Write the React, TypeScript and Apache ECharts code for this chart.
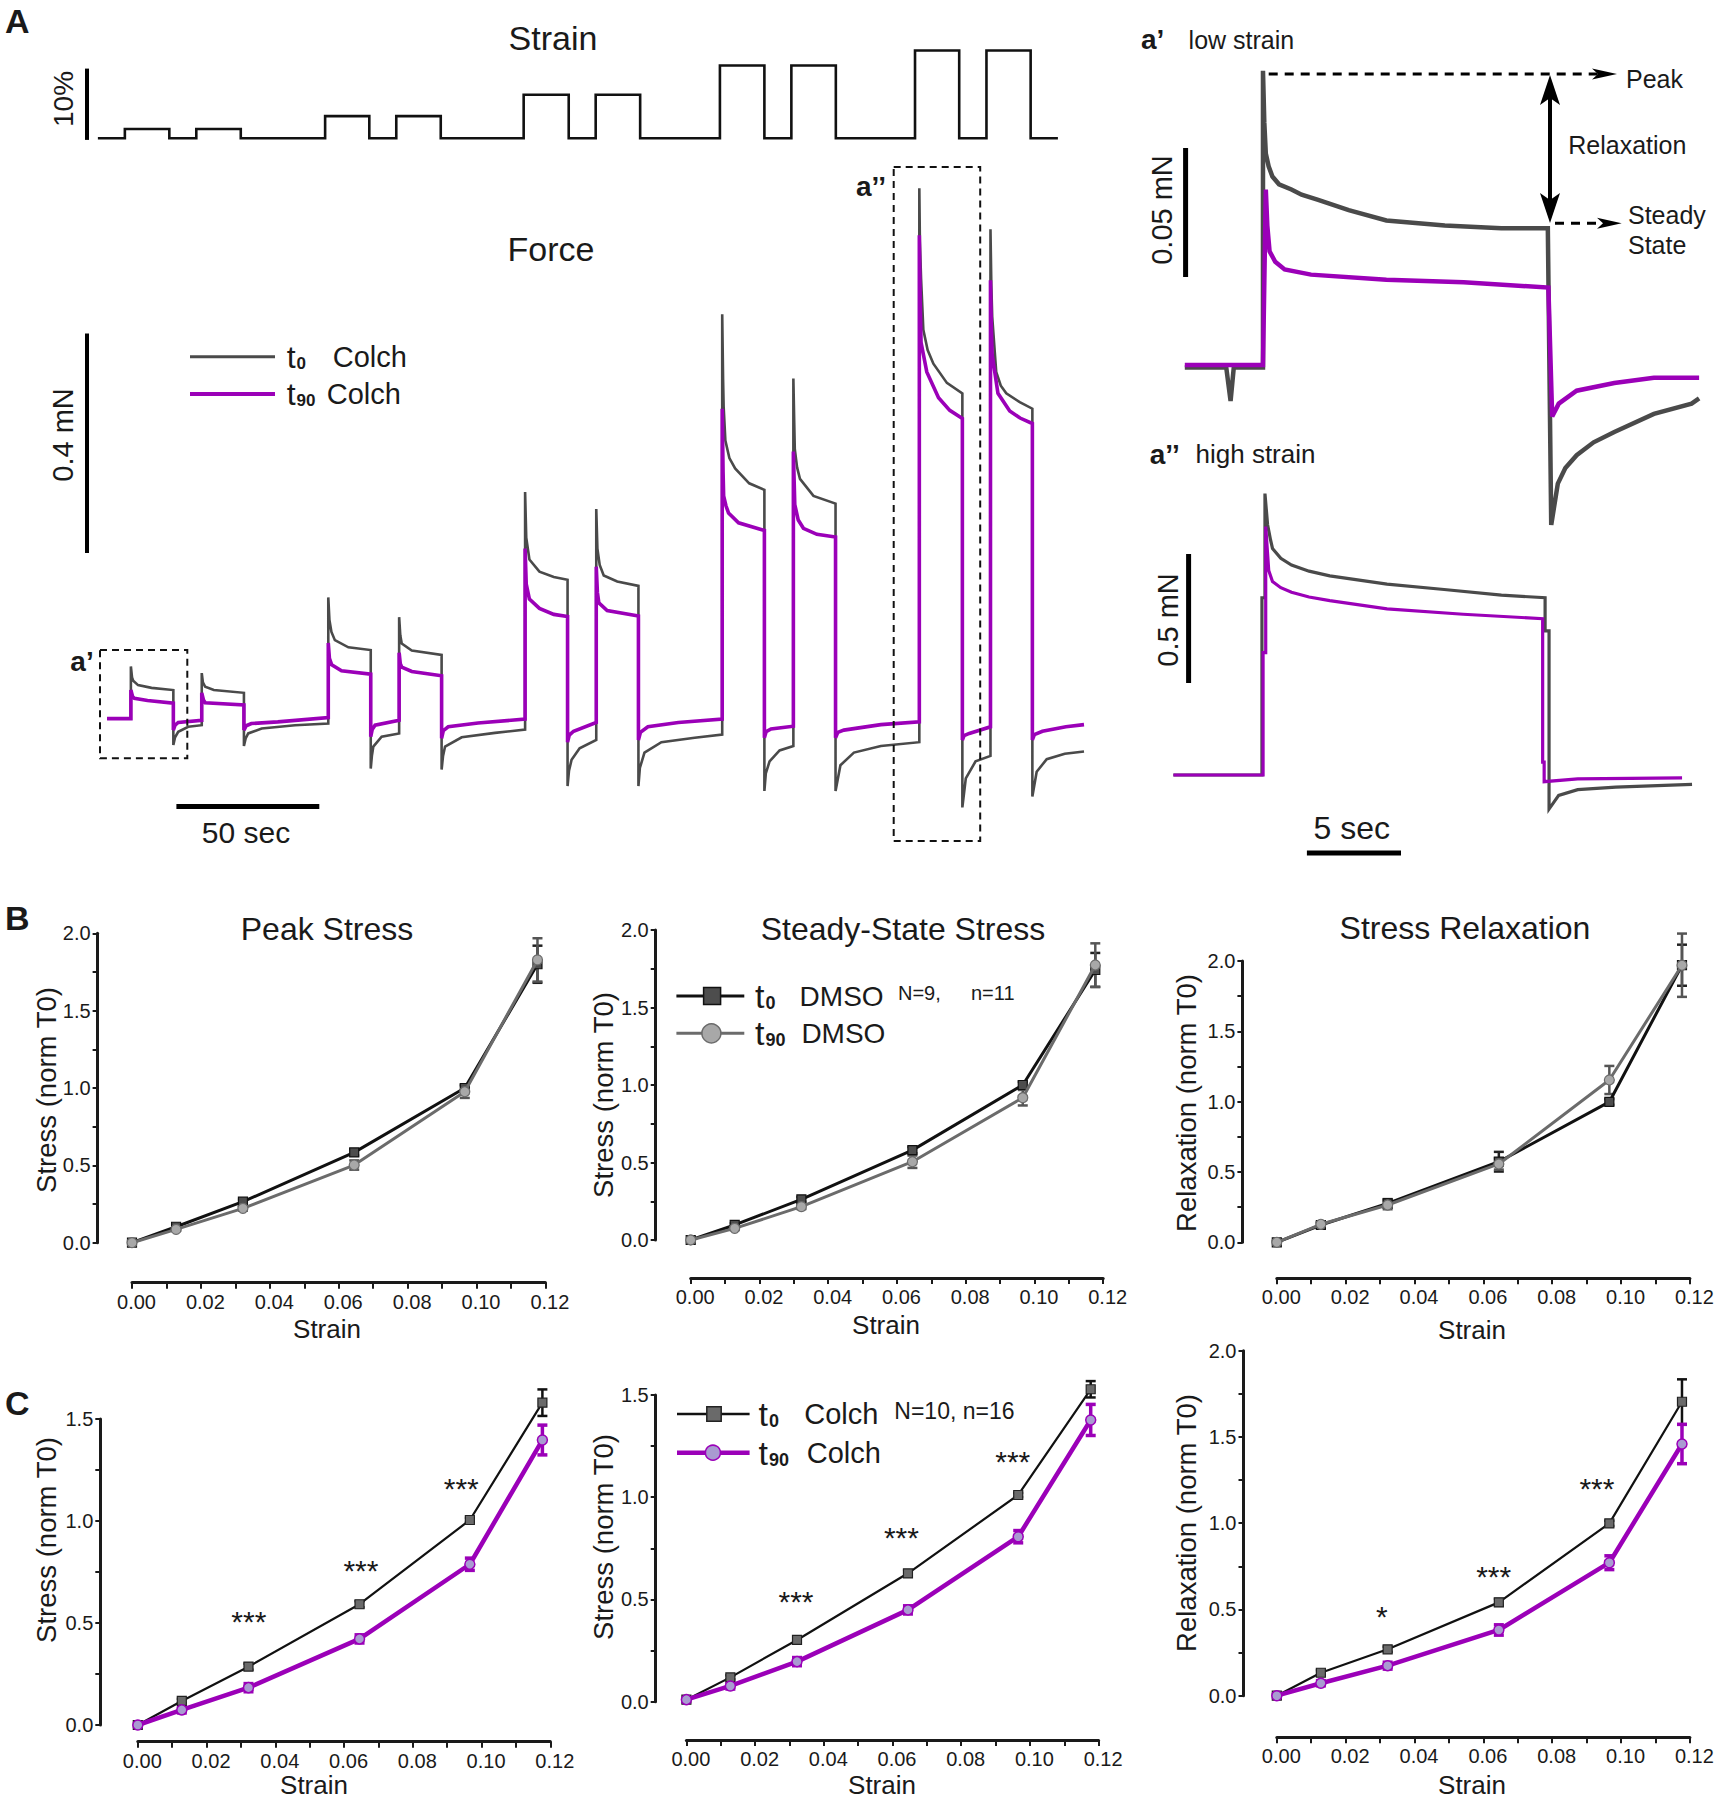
import React, { useEffect, useRef } from 'react';
import * as echarts from 'echarts';

const FONT = '"Liberation Sans", Arial, Helvetica, sans-serif';
const INK = '#1a1a1a';
const GRAY = '#4a4a4a';
const MAG = '#9b00b8';

// ---------- Panel A: strain protocol (time in s, strain in %) ----------
const strainUp = [9.5, 34.4, 79.3, 104.1, 148.5, 173.6, 216.9, 241.8, 284.9, 309.8];
const strainDown = [25.0, 49.9, 94.7, 119.6, 164.2, 189.1, 232.4, 257.3, 300.3, 325.2];
const strainLevel = [1.3, 1.3, 3.1, 3.1, 6.1, 6.1, 10.2, 10.2, 12.3, 12.3];
const strainStart = 0.1;
const strainEnd = 334.7;

// ---------- Panel A: force traces (time s, force mN) ----------
const forceT0: number[][] = [
  [3.3, 0.0], [11.6, 0.0],
  [11.6, 0.095], [12.0, 0.075], [12.4, 0.069], [14.1, 0.061], [18.8, 0.056], [26.4, 0.052],
  [26.4, -0.048], [27.0, -0.034], [28.1, -0.024], [31.6, -0.015], [36.3, -0.012],
  [36.3, 0.083], [36.7, 0.066], [37.5, 0.058], [40.5, 0.052], [51.0, 0.047],
  [51.0, -0.05], [51.6, -0.036], [52.5, -0.027], [57.2, -0.018], [68.8, -0.012], [80.4, -0.009],
  [80.4, 0.221], [80.8, 0.18], [81.5, 0.158], [82.7, 0.143], [87.4, 0.13], [95.2, 0.125],
  [95.2, -0.091], [95.6, -0.068], [96.1, -0.051], [99.0, -0.033], [105.1, -0.027],
  [105.1, 0.185], [105.5, 0.152], [106.0, 0.137], [109.5, 0.124], [119.9, 0.116],
  [119.9, -0.093], [120.4, -0.068], [121.1, -0.051], [126.9, -0.034], [138.5, -0.026], [149.0, -0.02],
  [149.0, 0.413], [149.4, 0.33], [150.5, 0.29], [154.0, 0.268], [159.0, 0.258], [163.8, 0.253],
  [163.8, -0.123], [164.3, -0.095], [165.2, -0.075], [168.0, -0.054], [173.8, -0.039],
  [173.8, 0.382], [174.2, 0.31], [175.0, 0.28], [176.4, 0.261], [181.1, 0.25], [188.5, 0.242],
  [188.5, -0.123], [189.0, -0.09], [190.6, -0.062], [196.5, -0.043], [208.1, -0.035], [217.7, -0.029],
  [217.7, 0.737], [218.0, 0.62], [218.2, 0.569], [218.8, 0.507], [220.2, 0.475], [222.2, 0.456], [227.1, 0.429], [232.4, 0.417],
  [232.4, -0.132], [232.9, -0.1], [234.2, -0.078], [237.7, -0.058], [242.5, -0.05],
  [242.5, 0.62], [242.8, 0.54], [243.0, 0.491], [243.8, 0.458], [244.8, 0.437], [249.5, 0.406], [257.2, 0.392],
  [257.2, -0.132], [258.9, -0.085], [263.6, -0.062], [273.0, -0.05], [286.4, -0.043],
  [286.4, 0.967], [286.6, 0.87], [287.0, 0.803], [287.8, 0.709], [289.3, 0.672], [291.3, 0.647], [296.0, 0.612], [301.4, 0.593],
  [301.4, -0.162], [302.6, -0.109], [306.0, -0.078], [311.2, -0.068],
  [311.2, 0.892], [311.5, 0.79], [311.8, 0.733], [313.2, 0.632], [314.8, 0.607], [316.7, 0.593], [321.4, 0.577], [325.8, 0.565],
  [325.8, -0.142], [327.3, -0.097], [330.8, -0.074], [337.1, -0.064], [343.8, -0.06],
];
const forceT90: number[][] = [
  [3.3, 0.0], [11.6, 0.0],
  [11.6, 0.052], [12.2, 0.04], [12.8, 0.037], [17.4, 0.033], [26.4, 0.028],
  [26.4, -0.021], [27.0, -0.012], [28.1, -0.007], [36.3, -0.003],
  [36.3, 0.047], [36.9, 0.034], [37.5, 0.029], [51.0, 0.025],
  [51.0, -0.021], [51.8, -0.013], [53.6, -0.009], [62.8, -0.006], [80.4, 0.002],
  [80.4, 0.138], [80.8, 0.11], [81.6, 0.098], [85.0, 0.087], [95.2, 0.081],
  [95.2, -0.033], [95.7, -0.02], [96.7, -0.012], [105.1, -0.003],
  [105.1, 0.12], [105.5, 0.1], [106.0, 0.094], [109.5, 0.086], [119.9, 0.078],
  [119.9, -0.036], [120.5, -0.022], [122.2, -0.015], [132.6, -0.008], [149.0, -0.001],
  [149.0, 0.31], [149.4, 0.245], [150.5, 0.218], [154.0, 0.201], [159.0, 0.19], [163.8, 0.186],
  [163.8, -0.043], [164.4, -0.03], [165.9, -0.023], [173.8, -0.007],
  [173.8, 0.277], [174.2, 0.23], [174.7, 0.211], [177.6, 0.197], [188.5, 0.187],
  [188.5, -0.039], [189.2, -0.025], [191.8, -0.015], [202.4, -0.007], [217.7, -0.001],
  [217.7, 0.565], [218.0, 0.45], [218.2, 0.406], [219.0, 0.388], [219.9, 0.375], [223.4, 0.357], [232.4, 0.343],
  [232.4, -0.035], [233.0, -0.024], [234.7, -0.019], [242.5, -0.014],
  [242.5, 0.487], [243.0, 0.39], [244.2, 0.362], [246.0, 0.347], [250.7, 0.336], [257.2, 0.331],
  [257.2, -0.035], [258.0, -0.025], [260.1, -0.021], [273.0, -0.011], [286.4, -0.006],
  [286.4, 0.881], [286.7, 0.76], [287.0, 0.686], [289.0, 0.632], [293.1, 0.585], [297.0, 0.562], [301.4, 0.547],
  [301.4, -0.039], [302.0, -0.031], [303.8, -0.027], [311.2, -0.015],
  [311.2, 0.799], [311.5, 0.71], [311.8, 0.663], [313.8, 0.593], [317.9, 0.561], [321.5, 0.548], [325.8, 0.538],
  [325.8, -0.039], [326.5, -0.029], [329.3, -0.023], [337.5, -0.015], [343.8, -0.011],
];

// ---------- a' low strain (time s, force mN) ----------
const lowT0: number[][] = [
  [0, 0.0], [2.2, 0.0], [2.43, -0.013], [2.6, 0.0], [4.15, 0.0], [4.15, 0.115], [4.22, 0.095],
  [4.3, 0.083], [4.45, 0.078], [4.65, 0.074], [5.0, 0.071], [5.66, 0.069], [6.2, 0.067],
  [7.08, 0.065], [8.7, 0.061], [10.7, 0.057], [13.8, 0.055], [16.8, 0.054], [19.27, 0.054],
  [19.45, -0.061], [19.8, -0.045], [20.2, -0.039], [20.8, -0.034], [21.7, -0.029], [22.8, -0.025],
  [24.9, -0.018], [26.9, -0.014], [27.3, -0.012],
];
const lowT90: number[][] = [
  [0, 0.001], [4.15, 0.001], [4.3, 0.069], [4.38, 0.055], [4.5, 0.045], [4.8, 0.041], [5.3, 0.038],
  [6.7, 0.036], [10.7, 0.034], [14.8, 0.033], [19.3, 0.031], [19.5, -0.019], [19.85, -0.014],
  [20.8, -0.009], [22.8, -0.006], [24.9, -0.004], [27.3, -0.004],
];
// ---------- a'' high strain ----------
const highT0: number[][] = [
  [0, 0], [4.7, 0], [4.7, 0.687], [4.86, 0.687], [4.86, 1.091], [5.0, 0.97], [5.16, 0.91], [5.26, 0.878],
  [5.7, 0.84], [6.27, 0.814], [7.2, 0.79], [8.3, 0.772], [11.34, 0.74], [14.37, 0.719], [17.41, 0.697],
  [19.73, 0.687], [19.73, 0.559], [19.94, 0.559], [19.94, -0.132], [20.45, -0.079], [21.46, -0.057],
  [23.48, -0.047], [27.53, -0.036],
];
const highT90: number[][] = [
  [0, 0], [4.76, 0], [4.76, 0.474], [4.9, 0.474], [4.9, 0.963], [5.06, 0.793], [5.26, 0.75],
  [5.7, 0.726], [6.27, 0.708], [7.2, 0.69], [8.3, 0.676], [11.34, 0.644], [15.38, 0.623], [19.6, 0.606],
  [19.6, 0.05], [19.68, 0.05], [19.68, -0.026], [21.46, -0.015], [27.0, -0.011],
];

// ---------- Panels B & C ----------
const strainLevels = [0, 0.0128, 0.0322, 0.0645, 0.0966, 0.1177];

const peakDmsoT0 = [0, 0.103, 0.265, 0.584, 1.0, 1.8];
const peakDmsoT0Err = [0, 0.01, 0.015, 0.02, 0.02, 0.12];
const peakDmsoT90 = [0, 0.086, 0.222, 0.502, 0.976, 1.828];
const peakDmsoT90Err = [0, 0.01, 0.015, 0.03, 0.04, 0.14];

const ssDmsoT0 = [0, 0.097, 0.262, 0.58, 1.0, 1.742];
const ssDmsoT0Err = [0, 0.01, 0.015, 0.02, 0.02, 0.11];
const ssDmsoT90 = [0, 0.075, 0.215, 0.505, 0.918, 1.774];
const ssDmsoT90Err = [0, 0.01, 0.015, 0.04, 0.05, 0.14];

const relDmsoT0 = [0, 0.123, 0.277, 0.573, 0.998, 1.97];
const relDmsoT0Err = [0, 0.02, 0.03, 0.07, 0.02, 0.146];
const relDmsoT90 = [0, 0.128, 0.265, 0.557, 1.154, 1.97];
const relDmsoT90Err = [0, 0.015, 0.03, 0.04, 0.1, 0.225];

const peakColT0 = [0, 0.118, 0.286, 0.592, 1.005, 1.58];
const peakColT0Err = [0, 0.01, 0.015, 0.015, 0.01, 0.065];
const peakColT90 = [0, 0.074, 0.183, 0.422, 0.788, 1.397];
const peakColT90Err = [0, 0.015, 0.02, 0.02, 0.03, 0.073];

const ssColT0 = [0.01, 0.119, 0.302, 0.628, 1.011, 1.528];
const ssColT0Err = [0, 0.01, 0.015, 0.015, 0.01, 0.04];
const ssColT90 = [0.01, 0.077, 0.196, 0.449, 0.807, 1.378];
const ssColT90Err = [0, 0.015, 0.02, 0.02, 0.03, 0.076];

const relColT0 = [0, 0.133, 0.269, 0.541, 0.999, 1.704];
const relColT0Err = [0, 0.015, 0.015, 0.02, 0.015, 0.13];
const relColT90 = [0, 0.072, 0.174, 0.381, 0.771, 1.459];
const relColT90Err = [0, 0.015, 0.02, 0.03, 0.04, 0.114];

const sigC1 = [[0.0323, 0.544], [0.0649, 0.792], [0.0941, 1.193]];
const sigC1Labels = ['***', '***', '***'];
const sigC2 = [[0.0319, 0.522], [0.0626, 0.837], [0.095, 1.207]];
const sigC2Labels = ['***', '***', '***'];
const sigC3 = [[0.0305, 0.497], [0.063, 0.732], [0.093, 1.241]];
const sigC3Labels = ['*', '***', '***'];

function buildOption() {
  const grids: any[] = [];
  const xAxes: any[] = [];
  const yAxes: any[] = [];
  const series: any[] = [];
  const hidden = (gi: number, min: number, max: number) => ({ type: 'value', gridIndex: gi, min, max, show: false });

  grids.push({ left: 97.6, top: 38.4, width: 1004.2, height: 99.8 });
  xAxes.push(hidden(0, 0, 350));
  yAxes.push(hidden(0, 0, 14));
  grids.push({ left: 97.6, top: 60.4, width: 1004.2, height: 767.9 });
  xAxes.push(hidden(1, 0, 350));
  yAxes.push(hidden(1, -0.2, 1.2));
  grids.push({ left: 1184.8, top: 32.1, width: 527.5, height: 516 });
  xAxes.push(hidden(2, 0, 28));
  yAxes.push(hidden(2, -0.07, 0.13));
  grids.push({ left: 1173.4, top: 465.4, width: 527.5, height: 361.2 });
  xAxes.push(hidden(3, 0, 28));
  yAxes.push(hidden(3, -0.2, 1.2));

  const strainData: number[][] = [[strainStart, 0]];
  strainUp.forEach((u, i) => {
    strainData.push([u, 0], [u, strainLevel[i]], [strainDown[i], strainLevel[i]], [strainDown[i], 0]);
  });
  strainData.push([strainEnd, 0]);

  const trace = (gi: number, data: number[][], color: string, width: number, z: number) => ({
    type: 'line', xAxisIndex: gi, yAxisIndex: gi, data, symbol: 'none', showSymbol: false,
    lineStyle: { color, width, join: 'miter' }, z, silent: true, clip: false,
  });
  series.push(trace(0, strainData, '#111', 2.6, 2));
  series.push(trace(1, forceT0, GRAY, 2.6, 2));
  series.push(trace(1, forceT90, MAG, 3.6, 3));
  series.push(trace(2, lowT0, GRAY, 4.5, 2));
  series.push(trace(2, lowT90, MAG, 4.5, 3));
  series.push(trace(3, highT0, GRAY, 3.2, 2));
  series.push(trace(3, highT90, MAG, 3.2, 3));

  const plots = [
    { left: 132, top: 933.3, width: 413.4, height: 309.4, yMax: 2, yOff: 34.4, xOff: 40, a: peakDmsoT0, ae: peakDmsoT0Err, b: peakDmsoT90, be: peakDmsoT90Err, col: false, sig: null as any, sigL: null as any },
    { left: 690.7, top: 930, width: 412.5, height: 310, yMax: 2, yOff: 35, xOff: 38, a: ssDmsoT0, ae: ssDmsoT0Err, b: ssDmsoT90, be: ssDmsoT90Err, col: false, sig: null, sigL: null },
    { left: 1276.8, top: 961, width: 413.1, height: 281.3, yMax: 2, yOff: 34.4, xOff: 36, a: relDmsoT0, ae: relDmsoT0Err, b: relDmsoT90, be: relDmsoT90Err, col: false, sig: null, sigL: null },
    { left: 137.8, top: 1419, width: 412.5, height: 306, yMax: 1.5, yOff: 37.5, xOff: 16.7, a: peakColT0, ae: peakColT0Err, b: peakColT90, be: peakColT90Err, col: true, sig: sigC1, sigL: sigC1Labels },
    { left: 686.4, top: 1395, width: 412.2, height: 306.7, yMax: 1.5, yOff: 30.7, xOff: 38.3, a: ssColT0, ae: ssColT0Err, b: ssColT90, be: ssColT90Err, col: true, sig: sigC2, sigL: sigC2Labels },
    { left: 1276.8, top: 1350.7, width: 413.1, height: 345, yMax: 2, yOff: 33.3, xOff: 41.6, a: relColT0, ae: relColT0Err, b: relColT90, be: relColT90Err, col: true, sig: sigC3, sigL: sigC3Labels },
  ];

  const errSeries = (gi: number, ys: number[], es: number[], color: string, lw: number, z: number) => ({
    type: 'custom', xAxisIndex: gi, yAxisIndex: gi, clip: false, silent: true, z,
    data: strainLevels.map((x, i) => [x, ys[i], es[i]]),
    encode: { x: 0, y: 1 },
    renderItem: (params: any, api: any) => {
      const x = api.value(0), y = api.value(1), e = api.value(2);
      if (!e) return null;
      const t = api.coord([x, y + e]);
      const b = api.coord([x, y - e]);
      const w = 5;
      const st = { stroke: color, lineWidth: lw };
      return {
        type: 'group',
        children: [
          { type: 'line', shape: { x1: t[0], y1: t[1], x2: b[0], y2: b[1] }, style: st },
          { type: 'line', shape: { x1: t[0] - w, y1: t[1], x2: t[0] + w, y2: t[1] }, style: st },
          { type: 'line', shape: { x1: b[0] - w, y1: b[1], x2: b[0] + w, y2: b[1] }, style: st },
        ],
      };
    },
  });

  plots.forEach((p, k) => {
    const gi = 4 + k;
    grids.push({ left: p.left, top: p.top, width: p.width, height: p.height });
    xAxes.push({
      type: 'value', gridIndex: gi, min: 0, max: 0.12, interval: 0.01, offset: p.xOff,
      axisLine: { show: true, onZero: false, lineStyle: { color: INK, width: 3 } },
      axisTick: { show: true, length: 6, lineStyle: { color: INK, width: 2 } },
      axisLabel: {
        margin: 9, fontSize: 20, fontFamily: FONT, color: INK, padding: [0, 0, 0, 9],
        formatter: (v: number) => { const q = Math.round(v * 100); return q % 2 === 0 ? (q / 100).toFixed(2) : ''; },
      },
      splitLine: { show: false },
    });
    yAxes.push({
      type: 'value', gridIndex: gi, min: 0, max: p.yMax, interval: 0.25, offset: p.yOff,
      axisLine: { show: true, onZero: false, lineStyle: { color: INK, width: 3 } },
      axisTick: { show: true, length: 5, lineStyle: { color: INK, width: 2 } },
      axisLabel: {
        margin: 7, fontSize: 20, fontFamily: FONT, color: INK,
        formatter: (v: number) => { const q = Math.round(v * 4); return q % 2 === 0 ? (q / 4).toFixed(1) : ''; },
      },
      splitLine: { show: false },
    });
    const aLine = p.col ? { color: '#111', width: 2.2 } : { color: '#111', width: 3 };
    const bLine = p.col ? { color: MAG, width: 4.5 } : { color: '#6b6b6b', width: 3 };
    const aItem = p.col ? { color: '#6a6a6a', borderColor: '#222', borderWidth: 1.2 } : { color: '#4d4d4d', borderColor: '#111', borderWidth: 1.2 };
    const bItem = p.col ? { color: '#a99bd1', borderColor: MAG, borderWidth: 1.5 } : { color: '#a8a8a8', borderColor: '#6b6b6b', borderWidth: 1.2 };
    series.push(errSeries(gi, p.a, p.ae, p.col ? '#111' : '#222', 2.5, 3));
    series.push(errSeries(gi, p.b, p.be, p.col ? MAG : '#555', p.col ? 3.5 : 2.5, 4));
    series.push({
      type: 'line', xAxisIndex: gi, yAxisIndex: gi, data: strainLevels.map((x, i) => [x, p.a[i]]),
      symbol: 'rect', symbolSize: 9, showSymbol: true, lineStyle: aLine, itemStyle: aItem, z: 5, silent: true, clip: false,
    });
    series.push({
      type: 'line', xAxisIndex: gi, yAxisIndex: gi, data: strainLevels.map((x, i) => [x, p.b[i]]),
      symbol: 'circle', symbolSize: 10, showSymbol: true, lineStyle: bLine, itemStyle: bItem, z: 6, silent: true, clip: false,
    });
    if (p.sig) {
      const labels = p.sigL;
      series.push({
        type: 'custom', xAxisIndex: gi, yAxisIndex: gi, clip: false, silent: true, z: 7,
        data: p.sig, encode: { x: 0, y: 1 },
        renderItem: (params: any, api: any) => {
          const c = api.coord([api.value(0), api.value(1)]);
          return {
            type: 'text', x: c[0], y: c[1] + 7,
            style: { text: labels[params.dataIndex], fontSize: 30, fontFamily: FONT, fill: INK, align: 'center', verticalAlign: 'middle' },
          };
        },
      });
    }
  });

  // ---------- graphics ----------
  const G: any[] = [];
  const txt = (text: string, x: number, y: number, size: number, o: any = {}) => ({
    type: 'text', x, y, rotation: o.rot ? Math.PI / 2 : 0, z: 20,
    style: {
      text, fontSize: size, fontFamily: FONT, fontWeight: o.bold ? 'bold' : 'normal', fill: INK,
      align: o.align || 'center', verticalAlign: 'middle',
    },
  });
  const tsub = (sub: string, x: number, y: number, tSize: number, sSize: number) => ({
    type: 'text', x, y, z: 20,
    style: {
      text: `{t|t}{s|${sub}}`, align: 'left', verticalAlign: 'middle',
      rich: {
        t: { fontSize: tSize, fontFamily: FONT, fill: INK, verticalAlign: 'bottom' },
        s: { fontSize: sSize, fontFamily: FONT, fontWeight: 'bold', fill: INK, verticalAlign: 'bottom', padding: [0, 0, 1, 1] },
      },
    },
  });
  const ln = (x1: number, y1: number, x2: number, y2: number, stroke: string, lineWidth: number, dash?: number[]) => ({
    type: 'line', z: 20, shape: { x1, y1, x2, y2 }, style: { stroke, lineWidth, lineDash: dash || null },
  });
  const poly = (points: number[][], fill = '#000') => ({ type: 'polygon', z: 20, shape: { points }, style: { fill } });
  const box = (x: number, y: number, w: number, h: number) => ({
    type: 'rect', z: 20, shape: { x, y, width: w, height: h },
    style: { fill: 'transparent', stroke: '#111', lineWidth: 2, lineDash: [7, 5] },
  });

  // Panel A
  G.push(txt('A', 5, 21, 34, { bold: true, align: 'left' }));
  G.push(txt('Strain', 553, 38, 34));
  G.push(txt('Force', 551, 249, 34));
  G.push(ln(87, 68.6, 87, 139.9, '#000', 4));
  G.push(txt('10%', 63, 99, 28, { rot: true }));
  G.push(ln(87, 333.5, 87, 553, '#000', 4));
  G.push(txt('0.4 mN', 63, 435, 29, { rot: true }));
  G.push(ln(176.4, 806.4, 319.3, 806.4, '#000', 5));
  G.push(txt('50 sec', 246, 832, 30));
  G.push(box(100, 650, 87.3, 108.3));
  G.push(box(893.7, 167, 86.5, 674));
  G.push(txt('a\u2019', 82, 661, 28, { bold: true }));
  G.push(txt('a\u2019\u2019', 871, 186, 28, { bold: true }));
  G.push(ln(190, 356.7, 275, 356.7, GRAY, 3));
  G.push(ln(190, 394, 275, 394, MAG, 4));
  G.push(tsub('0', 286.7, 357, 32, 17));
  G.push(txt('Colch', 332.7, 357, 29, { align: 'left' }));
  G.push(tsub('90', 286.7, 394, 32, 17));
  G.push(txt('Colch', 326.7, 394, 29, { align: 'left' }));

  // a' / a''
  G.push(txt('a\u2019', 1141, 39.5, 28, { bold: true, align: 'left' }));
  G.push(txt('low strain', 1188.6, 39.5, 25, { align: 'left' }));
  G.push(ln(1185.6, 148, 1185.6, 277, '#000', 5));
  G.push(txt('0.05 mN', 1162, 210, 29, { rot: true }));
  G.push(ln(1268.7, 74, 1606, 74, '#000', 3, [9, 7]));
  G.push(poly([[1617, 74], [1592, 68.5], [1598, 74], [1592, 79.5]]));
  G.push(txt('Peak', 1626, 79, 25, { align: 'left' }));
  G.push(ln(1550, 95, 1550, 203, '#000', 4));
  G.push(poly([[1550, 75], [1540, 105], [1550, 98], [1560, 105]]));
  G.push(poly([[1550, 223], [1540, 193], [1550, 200], [1560, 193]]));
  G.push(txt('Relaxation', 1568.3, 145, 25, { align: 'left' }));
  G.push(ln(1555, 223.3, 1611, 223.3, '#000', 3, [9, 7]));
  G.push(poly([[1621.7, 223.3], [1597, 217.8], [1603, 223.3], [1597, 228.8]]));
  G.push(txt('Steady', 1628, 215, 25, { align: 'left' }));
  G.push(txt('State', 1628, 245, 25, { align: 'left' }));
  G.push(txt('a\u2019\u2019', 1149.7, 454, 28, { bold: true, align: 'left' }));
  G.push(txt('high strain', 1195.5, 454, 26, { align: 'left' }));
  G.push(ln(1188.6, 554, 1188.6, 683, '#000', 5));
  G.push(txt('0.5 mN', 1167.5, 620, 29, { rot: true }));
  G.push(ln(1306.9, 853, 1401, 853, '#000', 5));
  G.push(txt('5 sec', 1351.7, 828, 32));

  // Panels B & C labels
  G.push(txt('B', 5, 918, 34, { bold: true, align: 'left' }));
  G.push(txt('C', 5, 1403, 34, { bold: true, align: 'left' }));
  G.push(txt('Peak Stress', 327, 929, 32));
  G.push(txt('Steady-State Stress', 903, 929, 32));
  G.push(txt('Stress Relaxation', 1465, 928, 32));
  G.push(txt('Stress (norm T0)', 46, 1090, 27.5, { rot: true }));
  G.push(txt('Stress (norm T0)', 603, 1095, 27.5, { rot: true }));
  G.push(txt('Relaxation (norm T0)', 1186, 1103, 27.5, { rot: true }));
  G.push(txt('Stress (norm T0)', 46, 1540, 27.5, { rot: true }));
  G.push(txt('Stress (norm T0)', 603, 1537, 27.5, { rot: true }));
  G.push(txt('Relaxation (norm T0)', 1186, 1523, 27.5, { rot: true }));
  G.push(txt('Strain', 327, 1329, 26));
  G.push(txt('Strain', 886, 1325, 26));
  G.push(txt('Strain', 1472, 1330, 26));
  G.push(txt('Strain', 314, 1785, 26));
  G.push(txt('Strain', 882, 1785, 26));
  G.push(txt('Strain', 1472, 1785, 26));

  // B2 legend
  G.push(ln(676.4, 996, 744.3, 996, '#111', 3));
  G.push({ type: 'rect', z: 21, shape: { x: 703.6, y: 987.5, width: 17, height: 17 }, style: { fill: '#4d4d4d', stroke: '#111', lineWidth: 1.5 } });
  G.push(tsub('0', 755, 996, 34, 18));
  G.push(txt('DMSO', 799.6, 996, 28, { align: 'left' }));
  G.push(txt('N=9,', 898, 993, 20, { align: 'left' }));
  G.push(txt('n=11', 971, 993, 20, { align: 'left' }));
  G.push(ln(676.4, 1033.3, 744.3, 1033.3, '#6b6b6b', 3));
  G.push({ type: 'circle', z: 21, shape: { cx: 711.4, cy: 1033.3, r: 9.5 }, style: { fill: '#a8a8a8', stroke: '#6b6b6b', lineWidth: 1.5 } });
  G.push(tsub('90', 755, 1033.3, 34, 18));
  G.push(txt('DMSO', 801.4, 1033.3, 28, { align: 'left' }));

  // C2 legend
  G.push(ln(677, 1414, 749.6, 1414, '#111', 2.5));
  G.push({ type: 'rect', z: 21, shape: { x: 706.8, y: 1406.8, width: 14.4, height: 14.4 }, style: { fill: '#6a6a6a', stroke: '#222', lineWidth: 1.5 } });
  G.push(tsub('0', 758.6, 1414, 34, 18));
  G.push(txt('Colch', 804.3, 1414, 29, { align: 'left' }));
  G.push(txt('N=10, n=16', 894.3, 1411, 23, { align: 'left' }));
  G.push(ln(677, 1452.7, 749.6, 1452.7, MAG, 4.5));
  G.push({ type: 'circle', z: 21, shape: { cx: 712.9, cy: 1452.7, r: 7.5 }, style: { fill: '#a99bd1', stroke: MAG, lineWidth: 1.5 } });
  G.push(tsub('90', 758.6, 1452.7, 34, 18));
  G.push(txt('Colch', 806.8, 1452.7, 29, { align: 'left' }));

  return {
    animation: false,
    backgroundColor: '#ffffff',
    textStyle: { fontFamily: FONT },
    grid: grids,
    xAxis: xAxes,
    yAxis: yAxes,
    series,
    graphic: { elements: G },
  };
}

export default function App() {
  const ref = useRef<HTMLDivElement>(null);
  useEffect(() => {
    if (!ref.current) return;
    const chart = echarts.init(ref.current, null, { renderer: 'svg' });
    chart.setOption(buildOption() as any);
    return () => chart.dispose();
  }, []);
  return (
    <div
      ref={ref}
      style={{ position: 'absolute', left: 0, top: 0, width: 1718, height: 1800, background: '#fff' }}
    />
  );
}
